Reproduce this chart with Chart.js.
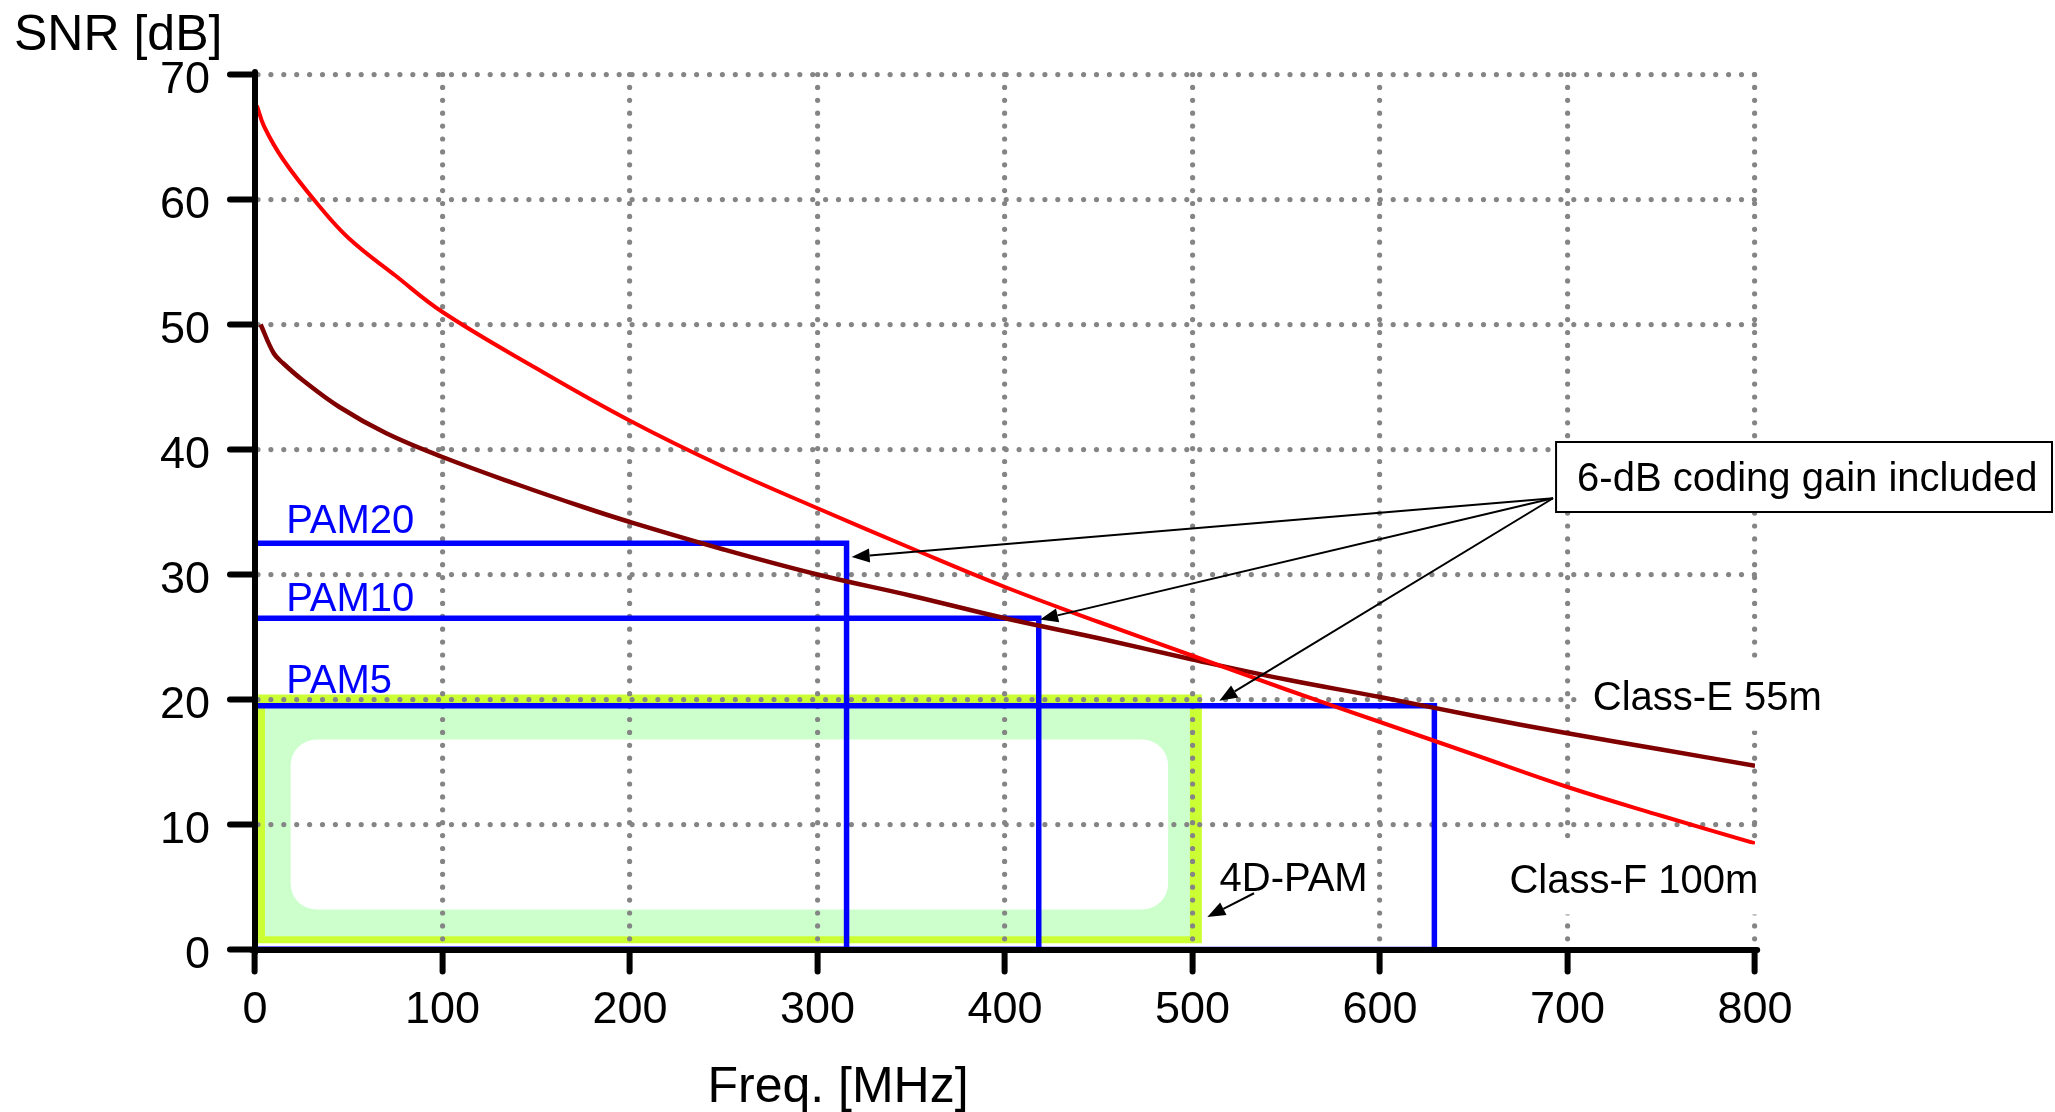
<!DOCTYPE html>
<html lang="en">
<head>
  <meta charset="UTF-8" />
  <title>SNR vs frequency</title>
  <script src="https://cdn.jsdelivr.net/npm/chart.js"></script>
  <style>
    html, body { margin: 0; padding: 0; background: #fff; }
    #wrap { width: 2055px; height: 1112px; position: relative; }
  </style>
</head>
<body>
  <div id="wrap"><canvas id="snrChart"></canvas></div>

  <script>
    // Class-F 100m (red)
    const freqClassF = [1, 5, 15, 33, 50, 75, 100, 150, 200, 250, 300, 350, 400, 450, 500, 550, 600, 650, 700, 750, 800];
    const snrClassF = [67.5, 65.8, 63.2, 59.7, 56.9, 53.9, 51.0, 46.5, 42.3, 38.6, 35.3, 32.1, 29.0, 26.2, 23.5, 20.8, 18.2, 15.6, 13.0, 10.7, 8.5];

    // Class-E 55m (dark red)
    const freqClassE = [3, 10, 15, 25, 45, 70, 100, 140, 175, 200, 250, 300, 350, 400, 450, 500, 550, 600, 650, 700, 750, 800];
    const snrClassE = [50.0, 47.7, 46.9, 45.6, 43.4, 41.3, 39.4, 37.2, 35.4, 34.2, 32.0, 30.0, 28.3, 26.5, 24.9, 23.2, 21.6, 20.2, 18.7, 17.3, 16.0, 14.7];

    // PAM requirement boxes (upper corner)
    const pamNames = ['PAM20', 'PAM10', 'PAM5'];
    const pamMaxFreq = [315.5, 418, 629];
    const pamSnr = [32.5, 26.5, 19.5];

    // 4D-PAM region
    const pam4dFreq = [0, 505];
    const pam4dSnr = [0.5, 20.4];
    const pam4dInnerFreq = [19, 487];
    const pam4dInnerSnr = [3.2, 16.8];

    const xTicks = [0, 100, 200, 300, 400, 500, 600, 700, 800];
    const yTicks = [0, 10, 20, 30, 40, 50, 60, 70];

    const FONT = 'Arial, "Liberation Sans", sans-serif';
    Chart.defaults.font.family = FONT;
    Chart.defaults.color = '#000';

    const toPoints = (xs, ys) => xs.map((v, i) => ({ x: v, y: ys[i] }));
    const boxPoints = (w, h) => [{ x: 0, y: 0 }, { x: 0, y: h }, { x: w, y: h }, { x: w, y: 0 }, { x: 0, y: 0 }];

    const datasets = [
      {
        label: 'Class-F 100m',
        data: toPoints(freqClassF, snrClassF),
        borderColor: '#ff0000', borderWidth: 4, pointRadius: 0, tension: 0.4
      },
      {
        label: 'Class-E 55m',
        data: toPoints(freqClassE, snrClassE),
        borderColor: '#800000', borderWidth: 4.5, pointRadius: 0, tension: 0.4
      }
    ];
    pamNames.forEach((name, i) => {
      datasets.push({
        label: name,
        data: boxPoints(pamMaxFreq[i], pamSnr[i]),
        borderColor: '#0000ff', borderWidth: 5.5, pointRadius: 0, tension: 0
      });
    });

    // 4D-PAM region, drawn under the grid
    const underlay = {
      id: 'underlay',
      beforeDraw(chart) {
        const { ctx, scales: { x, y } } = chart;
        ctx.save();
        const x0 = x.getPixelForValue(pam4dFreq[0]), x1 = x.getPixelForValue(pam4dFreq[1]);
        const y0 = y.getPixelForValue(pam4dSnr[0]), y1 = y.getPixelForValue(pam4dSnr[1]);
        ctx.fillStyle = '#ccff33';
        ctx.fillRect(x0, y1, x1 - x0, y0 - y1);
        ctx.fillStyle = '#ccffcc';
        ctx.fillRect(x0 + 10, y1 + 9, x1 - x0 - 22, y0 - y1 - 16);

        const ix0 = x.getPixelForValue(pam4dInnerFreq[0]), ix1 = x.getPixelForValue(pam4dInnerFreq[1]);
        const iy0 = y.getPixelForValue(pam4dInnerSnr[0]), iy1 = y.getPixelForValue(pam4dInnerSnr[1]);
        ctx.fillStyle = '#ffffff';
        ctx.beginPath();
        ctx.roundRect(ix0, iy1, ix1 - ix0, iy0 - iy1, 26);
        ctx.fill();
        ctx.restore();
        ctx.lineCap = 'round'; // gives the dotted grid round dots
      }
    };

    function arrow(ctx, fx, fy, tx, ty) {
      const a = Math.atan2(ty - fy, tx - fx);
      const len = 18, hw = 7;
      const bx = tx - len * Math.cos(a), by = ty - len * Math.sin(a);
      ctx.beginPath();
      ctx.moveTo(fx, fy);
      ctx.lineTo(bx, by);
      ctx.stroke();
      ctx.beginPath();
      ctx.moveTo(tx, ty);
      ctx.lineTo(bx + hw * Math.sin(a), by - hw * Math.cos(a));
      ctx.lineTo(bx - hw * Math.sin(a), by + hw * Math.cos(a));
      ctx.closePath();
      ctx.fill();
    }

    // text labels, callout box and arrows
    const notes = {
      id: 'notes',
      afterDraw(chart) {
        const { ctx, scales: { x, y } } = chart;
        const X = v => x.getPixelForValue(v), Y = v => y.getPixelForValue(v);
        ctx.save();
        ctx.lineCap = 'butt';
        ctx.textBaseline = 'alphabetic';
        ctx.textAlign = 'left';

        ctx.font = '50px ' + FONT;
        ctx.fillStyle = '#000';
        ctx.fillText('SNR [dB]', 14, 50);
        ctx.textAlign = 'center';
        ctx.fillText('Freq. [MHz]', 838, 1102);
        ctx.textAlign = 'left';

        ctx.font = '40px ' + FONT;
        ctx.fillStyle = '#0000ff';
        const pamLabelSnr = [33.3, 27.1, 20.5];
        pamNames.forEach((name, i) => ctx.fillText(name, X(16.6), Y(pamLabelSnr[i])));

        // curve labels sit on white patches that hide the grid
        ctx.fillStyle = '#fff';
        ctx.fillRect(X(706), Y(23.1), X(800) - X(706) + 60, Y(17.5) - Y(23.1));
        ctx.fillRect(X(662), Y(8.4), X(800) - X(662) + 14, Y(2.8) - Y(8.4));
        ctx.fillStyle = '#000';
        ctx.fillText('Class-E 55m', X(713.5), Y(19.2));
        ctx.fillText('Class-F 100m', X(669), Y(4.5));
        ctx.fillText('4D-PAM', X(514.4), Y(4.7));

        // callout
        const bl = X(693.9), bt = Y(40.6), bb = Y(35.0);
        ctx.fillStyle = '#fff';
        ctx.fillRect(bl, bt, 2052 - bl, bb - bt);
        ctx.strokeStyle = '#000';
        ctx.lineWidth = 2;
        ctx.strokeRect(bl, bt, 2052 - bl, bb - bt);
        ctx.fillStyle = '#000';
        ctx.fillText('6-dB coding gain included', bl + 21, Y(36.7));

        ctx.lineWidth = 2;
        const tips = [[318.2, 31.4], [418.7, 26.4], [514.3, 19.9]];
        tips.forEach(t => arrow(ctx, X(692.3), Y(36.1), X(t[0]), Y(t[1])));
        arrow(ctx, X(532.8), Y(4.5), X(507.9), Y(2.6));
        ctx.restore();
      }
    };

    new Chart(document.getElementById('snrChart'), {
      type: 'line',
      data: { datasets },
      options: {
        responsive: true,
        maintainAspectRatio: false,
        animation: false,
        layout: { padding: { top: 74.5, right: 300, left: 0, bottom: 0 } },
        plugins: { legend: { display: false }, tooltip: { enabled: false } },
        scales: {
          x: {
            type: 'linear', min: 0, max: 800,
            afterBuildTicks: s => { s.ticks = xTicks.map(v => ({ value: v })); },
            afterFit: s => { s.height = 1112 - 949.5; },
            grid: { color: '#858585', lineWidth: 5.2, tickLength: 22, tickWidth: 6, tickColor: '#000' },
            border: { color: '#000', width: 6, dash: [0, 12.9], z: 1 },
            ticks: { font: { size: 45 }, padding: 12, maxRotation: 0 }
          },
          y: {
            min: 0, max: 70,
            afterBuildTicks: s => { s.ticks = yTicks.map(v => ({ value: v })); },
            afterFit: s => { s.width = 255; },
            grid: { color: '#858585', lineWidth: 5.2, tickLength: 25, tickWidth: 6, tickColor: '#000' },
            border: { color: '#000', width: 6, dash: [0, 12.9], z: 1 },
            ticks: { font: { size: 45 }, padding: 20, labelOffset: 6.5 }
          }
        }
      },
      plugins: [underlay, notes]
    });
  </script>
</body>
</html>
